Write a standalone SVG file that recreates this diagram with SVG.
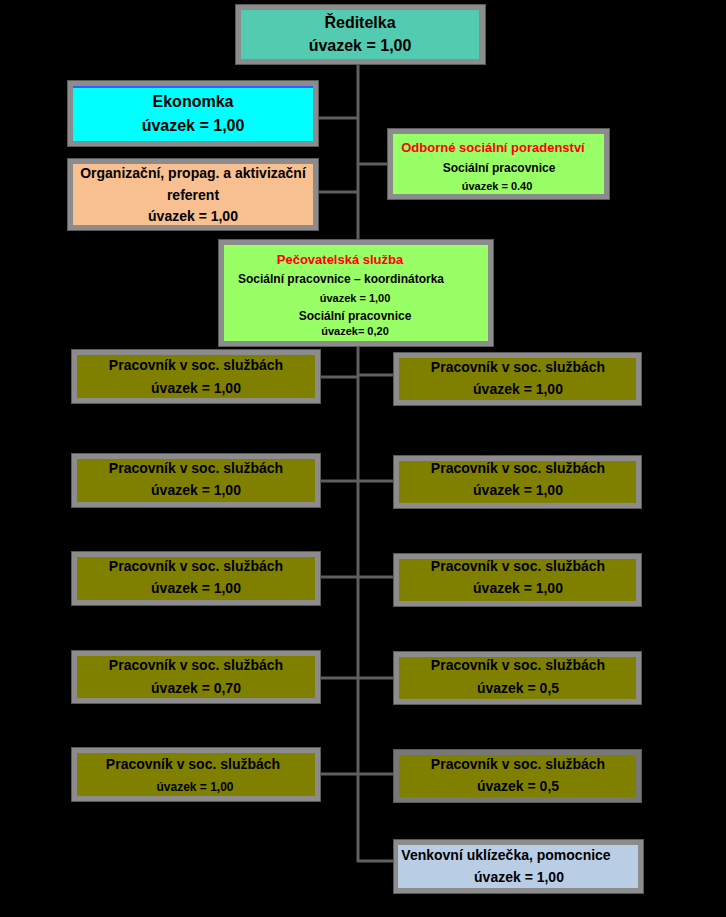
<svg xmlns="http://www.w3.org/2000/svg" width="726" height="917" viewBox="0 0 726 917">
<style>
text{font-family:"Liberation Sans",Arial,sans-serif;font-weight:bold;text-anchor:middle;fill:#000}
.b{fill:#8c8c8c;stroke:#5a5a5a;stroke-width:1}
.l{stroke:#5f5f5f;stroke-width:3;fill:none}
.f14{font-size:14px}.f16{font-size:16px}.f12{font-size:12px}.f13{font-size:13px}.f11{font-size:11px}
.red{fill:#ff0000}
</style>
<rect width="726" height="917" fill="#000"/>
<g id="connectors">
<path class="l" d="M358 65V861H393"/>
<path class="l" d="M318 118H358M318 192H358M358 164H387"/>
<path class="l" d="M320 377H358M358 375H393M320 481H358M358 481H393M320 577H358M358 577H393M320 678H358M358 678H393M320 774H358M358 774H393"/>
</g>
<g id="n-reditelka"><rect class="b" x="235.5" y="4.5" width="250" height="60"/><rect x="241" y="10" width="238" height="49" fill="#52cbb0"/>
<text class="f16" x="360" y="28">Ředitelka</text><text class="f16" x="360" y="51">úvazek = 1,00</text></g>
<g id="n-ekonomka"><rect class="b" x="67.5" y="80.5" width="251" height="66"/><rect x="73" y="86" width="240" height="55" fill="#00ffff"/><rect x="73" y="86" width="240" height="2" fill="#3c5aff"/>
<text class="f16" x="193" y="107">Ekonomka</text><text class="f16" x="193" y="131">úvazek = 1,00</text></g>
<g id="n-organizacni"><rect class="b" x="67.5" y="158.5" width="251" height="72"/><rect x="73" y="164" width="240" height="61" fill="#f8bf90"/>
<text class="f14" x="193" y="178">Organizační, propag. a aktivizační</text><text class="f14" x="193" y="200">referent</text><text class="f14" x="193" y="221">úvazek = 1,00</text></g>
<g id="n-odborne"><rect class="b" x="387.5" y="128.5" width="222" height="71"/><rect x="393" y="134" width="211" height="60" fill="#99ff66"/>
<text class="f13 red" x="493" y="152">Odborné sociální poradenství</text><text class="f12" x="499" y="172">Sociální pracovnice</text><text class="f11" x="497" y="190">úvazek  = 0.40</text></g>
<g id="n-pecovatelska"><rect class="b" x="218.5" y="239.5" width="275" height="107"/><rect x="224" y="245" width="264" height="96" fill="#99ff66"/>
<text class="f13 red" x="340" y="264">Pečovatelská služba</text><text class="f12" x="341" y="283">Sociální pracovnice – koordinátorka</text><text class="f11" x="355" y="302">úvazek = 1,00</text><text class="f12" x="355" y="320">Sociální pracovnice</text><text class="f11" x="355" y="335">úvazek= 0,20</text></g>
<g id="n-l1"><rect class="b" x="71.5" y="349.5" width="249" height="54"/><rect x="77" y="355" width="238" height="43" fill="#808000"/><text class="f14" x="196" y="370">Pracovník v soc. službách</text><text class="f14" x="196" y="393">úvazek = 1,00</text></g>
<g id="n-r1"><rect class="b" x="393.5" y="352.5" width="248" height="53"/><rect x="399" y="358" width="237" height="42" fill="#808000"/><text class="f14" x="518" y="372">Pracovník v soc. službách</text><text class="f14" x="518" y="394">úvazek = 1,00</text></g>
<g id="n-l2"><rect class="b" x="71.5" y="453.5" width="249" height="54"/><rect x="77" y="459" width="238" height="43" fill="#808000"/><text class="f14" x="196" y="473">Pracovník v soc. službách</text><text class="f14" x="196" y="495">úvazek = 1,00</text></g>
<g id="n-r2"><rect class="b" x="393.5" y="455.5" width="248" height="53"/><rect x="399" y="461" width="237" height="42" fill="#808000"/><text class="f14" x="518" y="473">Pracovník v soc. službách</text><text class="f14" x="518" y="495">úvazek = 1,00</text></g>
<g id="n-l3"><rect class="b" x="71.5" y="551.5" width="249" height="54"/><rect x="77" y="557" width="238" height="43" fill="#808000"/><text class="f14" x="196" y="571">Pracovník v soc. službách</text><text class="f14" x="196" y="593">úvazek = 1,00</text></g>
<g id="n-r3"><rect class="b" x="393.5" y="553.5" width="248" height="53"/><rect x="399" y="559" width="237" height="42" fill="#808000"/><text class="f14" x="518" y="571">Pracovník v soc. službách</text><text class="f14" x="518" y="593">úvazek = 1,00</text></g>
<g id="n-l4"><rect class="b" x="71.5" y="650.5" width="249" height="53"/><rect x="77" y="656" width="238" height="42" fill="#808000"/><text class="f14" x="196" y="670">Pracovník v soc. službách</text><text class="f14" x="196" y="693">úvazek = 0,70</text></g>
<g id="n-r4"><rect class="b" x="393.5" y="651.5" width="248" height="53"/><rect x="399" y="657" width="237" height="42" fill="#808000"/><text class="f14" x="518" y="670">Pracovník v soc. službách</text><text class="f14" x="518" y="693">úvazek = 0,5</text></g>
<g id="n-l5"><rect class="b" x="71.5" y="747.5" width="249" height="54"/><rect x="77" y="753" width="238" height="43" fill="#808000"/><text class="f14" x="193" y="769">Pracovník v soc. službách</text><text class="f12" x="195" y="791">úvazek  = 1,00</text></g>
<g id="n-r5"><rect x="393.5" y="749.5" width="248" height="53" fill="#777" stroke="#5a5a5a"/><rect x="399" y="755" width="237" height="42" fill="#808000"/><text class="f14" x="518" y="769">Pracovník v soc. službách</text><text class="f14" x="518" y="791">úvazek = 0,5</text></g>
<g id="n-venkovni"><rect class="b" x="393.5" y="839.5" width="250" height="54"/><rect x="398" y="845" width="240" height="43" fill="#b9cde5"/>
<text class="f14" x="506" y="860">Venkovní uklízečka, pomocnice</text><text class="f14" x="519" y="882">úvazek = 1,00</text></g>
</svg>
